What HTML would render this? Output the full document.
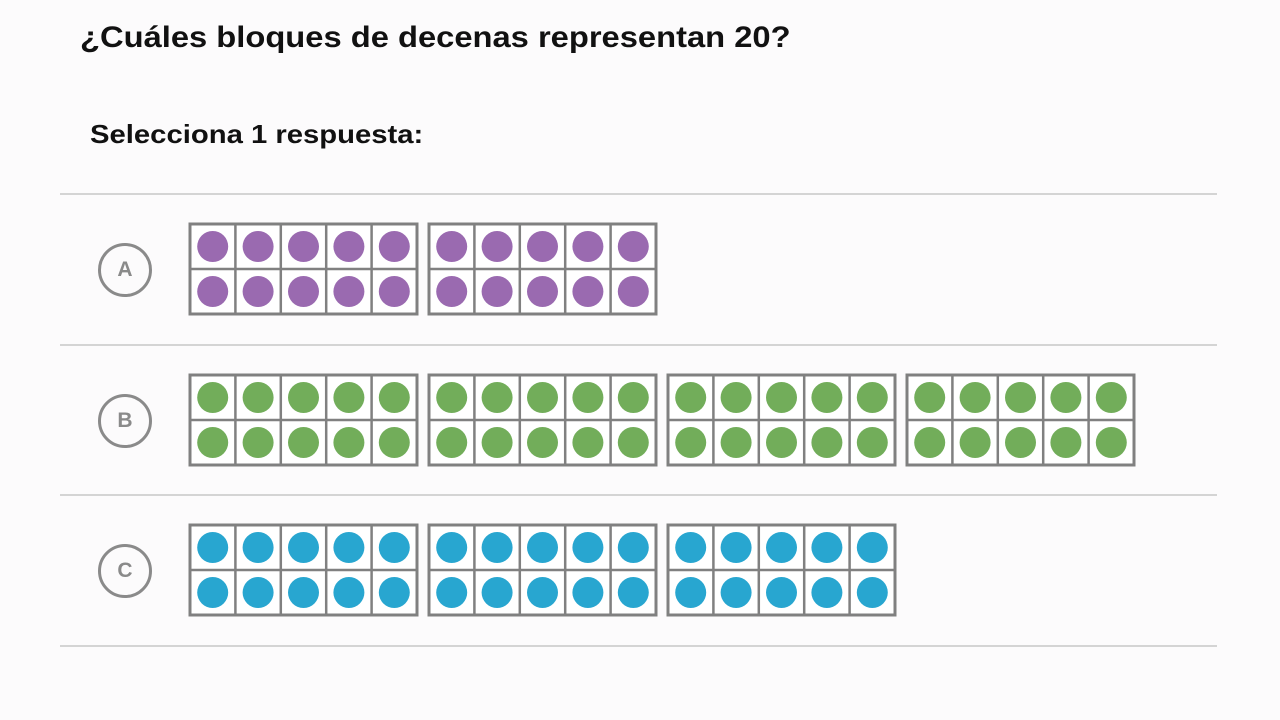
<!DOCTYPE html>
<html><head><meta charset="utf-8">
<style>
body{margin:0;width:1280px;height:720px;background:#fcfbfc;font-family:"Liberation Sans",sans-serif;position:relative;overflow:hidden}
.t{position:absolute;font-weight:bold;color:#111;white-space:nowrap;transform-origin:0 0}
.hr{position:absolute;left:60px;width:1157px;height:2px;background:#d4d4d4}
.lbl{position:absolute;width:54px;height:54px;border:3px solid #8a8a8a;border-radius:50%;box-sizing:border-box;text-align:center;line-height:48px;font-weight:bold;font-size:21px;color:#8a8a8a}
</style></head>
<body>
<div class="t" style="left:80px;top:21px;font-size:30px;transform:scaleX(1.09)">¿Cuáles bloques de decenas representan 20?</div>
<div class="t" style="left:90px;top:119px;font-size:26px;transform:scaleX(1.125)">Selecciona 1 respuesta:</div>
<div class="hr" style="top:193px"></div>
<div class="hr" style="top:344px"></div>
<div class="hr" style="top:494px"></div>
<div class="hr" style="top:645px"></div>
<svg id="s" width="1280" height="720" style="position:absolute;left:0;top:0"></svg>
<script>
const choiceLetters=["A","B","C"];
const blockCounts=[2,4,3];
const colors=["#9a6ab0","#72ad5a","#28a6d0"];
const rowTops=[224,375,525];
const NS="http://www.w3.org/2000/svg";
const s=document.getElementById('s');
function mk(t,a){const e=document.createElementNS(NS,t);for(const k in a)e.setAttribute(k,a[k]);return e;}
choiceLetters.forEach((L,i)=>{
  const y=rowTops[i];
  const d=document.createElement('div');
  d.className='lbl';d.style.left='98px';d.style.top=(y+19)+'px';d.textContent=L;
  
  
  document.body.appendChild(d);
  for(let b=0;b<blockCounts[i];b++){
    const x=190+b*239, w=227, h=90, cw=w/5, ch=h/2;
    const g=mk('g',{});
    
    
    g.appendChild(mk('rect',{x:x,y:y,width:w,height:h,fill:'#fff',stroke:'#808080','stroke-width':3}));
    for(let c=1;c<5;c++)g.appendChild(mk('line',{x1:x+c*cw,y1:y,x2:x+c*cw,y2:y+h,stroke:'#808080','stroke-width':2.5}));
    g.appendChild(mk('line',{x1:x,y1:y+ch,x2:x+w,y2:y+ch,stroke:'#808080','stroke-width':2.5}));
    for(let r=0;r<2;r++)for(let c=0;c<5;c++)
      g.appendChild(mk('circle',{cx:x+cw*(c+.5),cy:y+ch*(r+.5),r:15.5,fill:colors[i]}));
    s.appendChild(g);
  }
});
</script>
</body></html>
